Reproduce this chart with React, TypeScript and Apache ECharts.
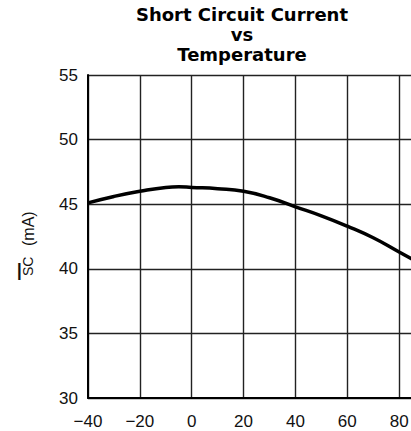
import React, { useEffect, useRef } from "react";
import * as echarts from "echarts";

const titleLines = ["Short Circuit Current", "vs", "Temperature"];
const temperatures = [-40, -30, -20, -10, -5, 0, 10, 20, 30, 40, 50, 60, 70, 80, 90];
const currents = [45.1, 45.6, 46.0, 46.3, 46.35, 46.3, 46.2, 46.0, 45.5, 44.8, 44.1, 43.3, 42.4, 41.3, 40.2];
const xMin = -40;
const xMax = 100;
const xStep = 20;
const yMin = 30;
const yMax = 55;
const yStep = 5;

export default function App() {
  const ref = useRef<HTMLDivElement>(null);
  useEffect(() => {
    if (!ref.current) return;
    const chart = echarts.init(ref.current, null, { renderer: "svg" });
    const labelFont = "'Liberation Sans', Arial, sans-serif";
    chart.setOption({
      animation: false,
      backgroundColor: "#ffffff",
      grid: {
        left: 88,
        top: 75,
        width: 363,
        height: 323,
        containLabel: false,
        outerBoundsMode: "none",
      },
      xAxis: {
        type: "value",
        min: xMin,
        max: xMax,
        interval: xStep,
        axisLine: { show: true, onZero: false, lineStyle: { color: "#000", width: 2 } },
        axisTick: { show: false },
        splitLine: { show: true, lineStyle: { color: "#222", width: 1.4 } },
        axisLabel: {
          margin: 15,
          showMaxLabel: false,
          fontFamily: labelFont,
          fontSize: 17,
          color: "#111",
          formatter: (v: number) => (v < 0 ? "\u2212" + Math.abs(v) : String(v)),
        },
      },
      yAxis: {
        type: "value",
        min: yMin,
        max: yMax,
        interval: yStep,
        axisLine: { show: true, onZero: false, lineStyle: { color: "#000", width: 2 } },
        axisTick: { show: false },
        splitLine: { show: true, lineStyle: { color: "#222", width: 1.4 } },
        axisLabel: {
          margin: 10,
          fontFamily: labelFont,
          fontSize: 17,
          color: "#111",
        },
      },
      graphic: [
        {
          type: "text",
          x: 242,
          y: 4,
          style: {
            text: titleLines.join("\n"),
            align: "center",
            textAlign: "center",
            font: "bold 18px 'DejaVu Sans', sans-serif",
            lineHeight: 20,
            fill: "#000",
          },
        },
        {
          type: "text",
          x: 16,
          y: 259,
          rotation: 0,
          style: {
            text: "I",
            fontSize: 24,
            fontFamily: labelFont,
            fill: "#111",
          },
        },
        {
          type: "text",
          x: 21,
          y: 276,
          rotation: Math.PI / 2,
          style: {
            text: "SC",
            font: "14px 'Liberation Sans', Arial, sans-serif",
            fill: "#111",
          },
        },
        {
          type: "text",
          x: 20,
          y: 246,
          rotation: Math.PI / 2,
          style: {
            text: "(mA)",
            font: "16px 'Liberation Sans', Arial, sans-serif",
            fill: "#111",
          },
        },
      ],
      series: [
        {
          type: "line",
          data: temperatures.map((t, i) => [t, currents[i]]),
          smooth: true,
          showSymbol: false,
          lineStyle: { color: "#000", width: 3.5 },
        },
      ],
    });
    return () => chart.dispose();
  }, []);
  return (
    <div
      ref={ref}
      style={{ position: "fixed", left: 0, top: 0, width: 411, height: 431 }}
    />
  );
}
